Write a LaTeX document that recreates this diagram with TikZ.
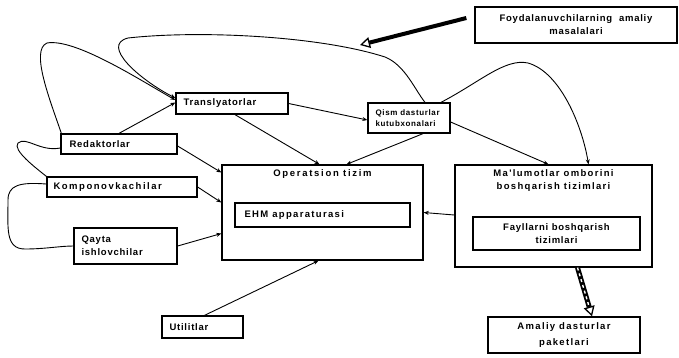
\documentclass[tikz,border=0pt]{standalone}
\usepackage{fontspec}
\newfontfamily\lblfont{Liberation Sans}[LetterSpace=8]
\usetikzlibrary{arrows.meta,calc}
\begin{document}
\begin{tikzpicture}[x=1pt,y=-1pt,
  lbl/.style={font=\lblfont\bfseries\fontsize{9.5}{13}\selectfont, inner sep=0pt},
  box/.style={draw, line width=1.3pt, inner sep=0pt},
  cbox/.style={box, lbl, align=center},
  conn/.style={line width=0.9pt, -{Stealth[length=5pt,width=4pt]}},
  plain/.style={line width=0.9pt},
  thickarr/.style={line width=4pt, -{Triangle[open,length=10pt,width=11pt,line width=1.3pt]}},
  stripe/.style={line width=1.4pt, white, dash pattern=on 3pt off 3pt}
]
\useasboundingbox (0,0) rectangle (679,357);

% boxes
\node[cbox, minimum width=202, minimum height=36] (foyd) at (576,25) {Foydalanuvchilarning\ \ amaliy\\masalalari};
\node[box, minimum width=112, minimum height=21] (trans) at (232,103.5) {};
\node[lbl, anchor=west] (transT) at ([xshift=8pt]trans.west) {Translyatorlar};
\node[box, minimum width=116, minimum height=20] (red) at (119,144) {};
\node[lbl, anchor=west] (redT) at ([xshift=9pt]red.west) {Redaktorlar};
\node[box, minimum width=150, minimum height=20] (komp) at (122,187) {};
\node[lbl, anchor=west, font=\lblfont\bfseries\fontsize{9.5}{13}\selectfont\addfontfeature{LetterSpace=16}] (kompT) at ([xshift=7pt]komp.west) {Komponovkachilar};
\node[box, minimum width=103, minimum height=36] (qayta) at (125.5,246) {};
\node[lbl, anchor=west, align=left] (qaytaT) at ([xshift=8pt]qayta.west) {Qayta\\ishlovchilar};
\node[box, minimum width=82, minimum height=30] (qism) at (409,118) {};
\node[lbl, anchor=west, align=left, font=\lblfont\bfseries\fontsize{8}{11.5}\selectfont] (qismT) at ([xshift=8pt]qism.west) {Qism dasturlar\\kutubxonalari};
\node[box, minimum width=201, minimum height=95] (ops) at (322.5,212.5) {};
\node[lbl, font=\lblfont\bfseries\fontsize{9.5}{13}\selectfont\addfontfeature{LetterSpace=18}] (opsT) at ([yshift=-10pt]ops.north) {Operatsion tizim};
\node[box, minimum width=175, minimum height=24] (ehm) at (322.5,215) {};
\node[lbl, anchor=west, font=\lblfont\bfseries\fontsize{9.5}{13}\selectfont\addfontfeature{LetterSpace=14}] (ehmT) at ([xshift=10pt]ehm.west) {EHM apparaturasi};
\node[box, minimum width=197, minimum height=102] (malum) at (553.5,216) {};
\node[lbl, align=center, font=\lblfont\bfseries\fontsize{9.5}{13}\selectfont\addfontfeature{LetterSpace=14}] (malumT) at ([yshift=-16.5pt]malum.north) {Ma'lumotlar omborini\\boshqarish tizimlari};
\node[cbox, minimum width=167, minimum height=33] (fayl) at (556.5,233.5) {Fayllarni boshqarish\\tizimlari};
\node[box, minimum width=81, minimum height=22] (util) at (202.5,327) {};
\node[lbl, anchor=west] (utilT) at ([xshift=8pt]util.west) {Utilitlar};
\node[cbox, minimum width=152, minimum height=36, font=\lblfont\bfseries\fontsize{9.5}{16}\selectfont\addfontfeature{LetterSpace=14}] (amal) at (564,335) {Amaliy dasturlar\\paketlari};

% straight connectors
\draw[conn] (red.north) -- ([yshift=1pt]trans.west);
\draw[conn] (trans.east) -- ([yshift=-2pt]qism.west);
\draw[conn] ([xshift=3pt]trans.south) -- ([xshift=-3pt]ops.north);
\draw[conn] ([xshift=14pt]qism.south) -- ([xshift=24pt]ops.north);
\draw[conn] ([yshift=-4pt]qism.east) -- ([xshift=-5pt]malum.north);
\draw[conn] ([yshift=-2pt]red.east) -- ([yshift=40pt]ops.west);
\draw[conn] (komp.east) -- ([yshift=10pt]ops.west);
\draw[conn] (qayta.east) -- ([yshift=-21pt]ops.west);
\draw[conn] ([yshift=1pt]malum.west) -- (ops.east);
\draw[conn] ([xshift=2pt]util.north) -- ([xshift=-4pt]ops.south);

% curved connectors
\draw[conn] ([xshift=1pt]red.north west) .. controls (50,100) and (30,50) .. (47,43)
   .. controls (75,38) and (140,80) .. ([yshift=3.5pt]trans.west);
\draw[conn] ([xshift=16pt]qism.north) .. controls (415,90) and (405,65) .. (385,57)
   .. controls (320,36) and (200,30) .. (128,38)
   .. controls (100,45) and (140,80) .. ([yshift=5.5pt]trans.west);
\draw[conn] ([xshift=32pt]qism.north) .. controls (480,82) and (505,58) .. (528,63)
   .. controls (560,72) and (582,125) .. ([xshift=35pt]malum.north);
\draw[plain] ([yshift=-4pt]red.west) .. controls (40,152) and (26,136) .. (18,143)
   .. controls (12,150) and (36,168) .. (komp.north west);
\draw[plain] ([yshift=3pt]komp.west) .. controls (20,182) and (8,185) .. (8,200)
   .. controls (8,228) and (5,249) .. (25,249)
   .. controls (45,249) and (60,246) .. (qayta.west);

% thick arrows
\coordinate (fend) at (360,45);
\draw[thickarr] ([xshift=-8pt,yshift=7pt]foyd.west) -- (fend);
\draw[line width=5pt, -{Triangle[open,length=10pt,width=11pt,line width=1.3pt]}] ([xshift=24pt]malum.south) -- ([xshift=28pt]amal.north);
\draw[stripe, shorten >=12pt] ([xshift=24pt]malum.south) -- ([xshift=28pt]amal.north);
\end{tikzpicture}
\end{document}
